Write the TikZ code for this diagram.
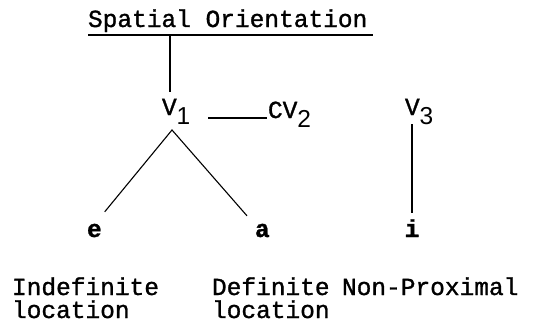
\documentclass[tikz,border=0pt]{standalone}
\usepackage{fontspec}
\setmainfont[FakeBold=1.2]{Liberation Mono}
\newfontfamily\digitfont{Liberation Sans}
\newcommand\lowsub[1]{\raisebox{-9pt}{\digitfont #1}}
\begin{document}
\begin{tikzpicture}[x=1pt,y=-1pt,
  every node/.style={inner sep=0pt, outer sep=0pt, font=\fontsize{24.5}{23}\selectfont},
  ln/.style={line width=1.1pt, line cap=butt},
  lbl/.style={anchor=base west, align=left}]
\useasboundingbox (0,0) rectangle (542,333);
% title
\node[anchor=base west] (title) at (88,27) {Spatial Orientation};
\coordinate (ulL) at (88,35);
\coordinate (ulR) at (373,35);
\coordinate (drop) at (170,35);
\draw[ln] (ulL) -- (ulR);
% V nodes
\node[anchor=base west] (V1) at (162,115) {V\lowsub{1}};
\node[anchor=base west] (CV2) at (268,118) {CV\lowsub{2}};
\node[anchor=base west] (V3) at (405,115) {V\lowsub{3}};
\coordinate (apex) at (172,130);
% leaves
\node[anchor=base west] (e) at (87,237) {\bfseries e};
\node[anchor=base west] (a) at (255,237) {\bfseries a};
\node[anchor=base] (i) at (412,237) {\bfseries i};
% labels (base = last line)
\node[lbl] (l1) at (12,318) {Indefinite\\location};
\node[lbl] (l2) at (212,318) {Definite\\location};
\node[lbl] (l3) at (342,295) {Non-Proximal};
% connectors
\draw[ln] (drop) -- ([yshift=7pt]drop |- V1.north);
\draw[ln] ([xshift=18pt]V1.east |- CV2.base) -- ([xshift=-1pt]CV2.base west);
\draw[ln] ([xshift=3pt,yshift=12pt]e.north east) -- (apex) -- ([xshift=-8pt,yshift=8pt]a.north west);
\draw[ln] (i.north |- V3.south) -- ([yshift=6pt]i.north);
\end{tikzpicture}
\end{document}
